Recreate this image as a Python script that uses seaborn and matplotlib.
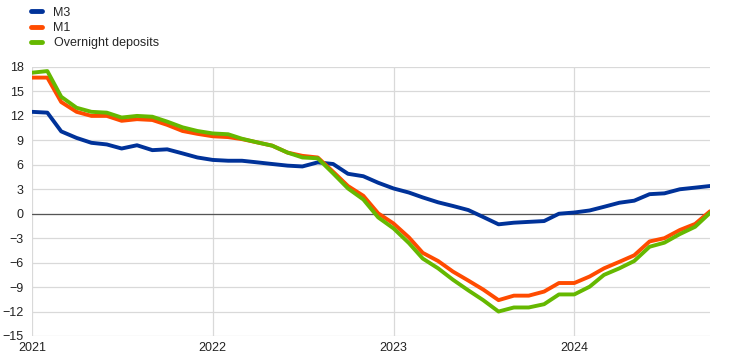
import pandas as pd
import numpy as np
import matplotlib
matplotlib.use("Agg")
import matplotlib.pyplot as plt
import matplotlib.dates as mdates
import seaborn as sns

# monthly annual growth rates, Jan 2021 - Oct 2024
months = pd.date_range("2021-01-01", "2024-10-01", freq="MS")

m3 = [12.5, 12.4, 10.1, 9.3, 8.7, 8.5, 8.0, 8.4, 7.8, 7.9, 7.4, 6.9,
      6.6, 6.5, 6.5, 6.3, 6.1, 5.9, 5.8, 6.3, 6.1, 4.9, 4.6, 3.8,
      3.1, 2.6, 2.0, 1.4, 0.95, 0.45, -0.4, -1.3, -1.1, -1.0, -0.9, 0.0,
      0.15, 0.4, 0.85, 1.35, 1.6, 2.4, 2.5, 3.0, 3.2, 3.4]

m1 = [16.7, 16.7, 13.7, 12.5, 12.0, 12.0, 11.4, 11.6, 11.5, 10.9, 10.15, 9.8,
      9.5, 9.4, 9.15, 8.75, 8.35, 7.5, 7.1, 6.9, 5.15, 3.4, 2.2, 0.05,
      -1.2, -2.9, -4.8, -5.8, -7.1, -8.2, -9.3, -10.6, -10.05, -10.05, -9.55, -8.5,
      -8.5, -7.7, -6.7, -5.9, -5.1, -3.4, -3.0, -2.0, -1.25, 0.3]

overnight = [17.3, 17.5, 14.35, 13.0, 12.5, 12.4, 11.8, 12.0, 11.9, 11.3, 10.6, 10.15,
             9.85, 9.75, 9.2, 8.75, 8.35, 7.5, 6.9, 6.8, 4.95, 3.1, 1.75, -0.45,
             -1.8, -3.6, -5.5, -6.7, -8.1, -9.4, -10.6, -12.0, -11.5, -11.5, -11.1, -9.9,
             -9.9, -8.95, -7.5, -6.7, -5.8, -4.05, -3.55, -2.5, -1.6, 0.1]

series_names = ["M3", "M1", "Overnight deposits"]
colors = ["#003299", "#ff4b00", "#65b800"]

df = pd.DataFrame({"date": months, "M3": m3, "M1": m1, "Overnight deposits": overnight})
long_df = df.melt(id_vars="date", var_name="series", value_name="value")

sns.set_style("white")
plt.rcParams["font.family"] = ["Liberation Sans", "DejaVu Sans"]

fig = plt.figure(figsize=(7.42, 3.62), dpi=100)
ax = fig.add_axes([32 / 742, 1 - 336 / 362, (710 - 32) / 742, (336 - 67) / 362])

sns.lineplot(data=long_df, x="date", y="value", hue="series", hue_order=series_names,
             palette=colors, linewidth=2.8, ax=ax, legend=False)

ax.axhline(0, color="#555555", linewidth=0.9, zorder=1)

ax.set_xlim(pd.Timestamp("2021-01-01"), pd.Timestamp("2024-10-01"))
ax.set_ylim(-15, 18)
ax.set_yticks(np.arange(-15, 19, 3))
ax.xaxis.set_major_locator(mdates.YearLocator())
ax.xaxis.set_major_formatter(mdates.DateFormatter("%Y"))
ax.grid(True, color="#d9d9d9", linewidth=0.9)
ax.set_axisbelow(True)
for s in ax.spines.values():
    s.set_visible(False)
ax.tick_params(length=0, labelsize=9, colors="#222222", pad=4)
ax.tick_params(axis="y", pad=6)
ax.set_xlabel("")
ax.set_ylabel("")

handles = [plt.Line2D([], [], color=c, linewidth=3.5) for c in colors]
fig.legend(handles, series_names, loc="upper left", bbox_to_anchor=(26 / 742, 0.995),
           frameon=False, fontsize=9, handlelength=0.9, handletextpad=0.9,
           labelspacing=0.25, borderaxespad=0)

fig.savefig("out.png", dpi=100)
